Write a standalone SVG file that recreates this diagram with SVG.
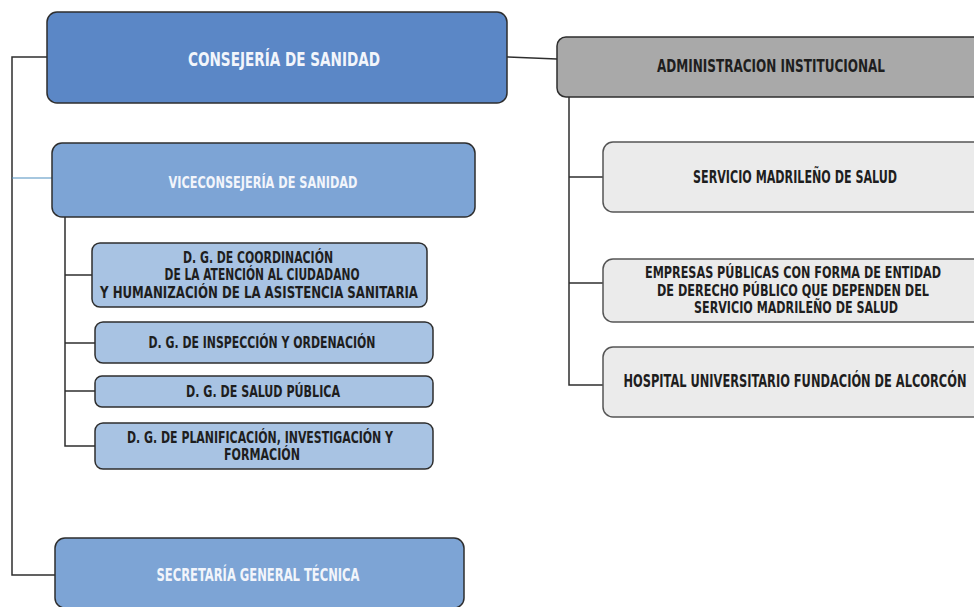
<svg xmlns="http://www.w3.org/2000/svg" width="974" height="607" viewBox="0 0 974 607">
<style>
.t{font-family:"Liberation Sans Narrow","DejaVu Sans Condensed","Liberation Sans",sans-serif;font-weight:bold;text-anchor:middle}
.w{fill:#f2f5fb}
.d{fill:#1e1e1e}
.box{stroke:#2e2e2e;stroke-width:1.5}
.c1{fill:#5b87c6}
.c2{fill:#7da4d5}
.c3{fill:#a8c3e3}
.g1{fill:#a9a9a9}
.g2{fill:#ebebeb;stroke:#555}
.ln{fill:none;stroke:#2e2e2e;stroke-width:1.5}
</style>
<rect width="974" height="607" fill="#ffffff"/>
<g id="connectors">
<polyline class="ln" points="47,57 12,57 12,575 55,575"/>
<line x1="12" y1="178" x2="52" y2="178" stroke="#4f8fc0" stroke-width="1.2"/>
<polyline class="ln" points="65,217 65,446 95,446"/>
<line class="ln" x1="65" y1="275" x2="92" y2="275"/>
<line class="ln" x1="65" y1="343" x2="95" y2="343"/>
<line class="ln" x1="65" y1="391" x2="95" y2="391"/>
<line class="ln" x1="507" y1="57" x2="557" y2="59"/>
<polyline class="ln" points="569,97 569,385 603,385"/>
<line class="ln" x1="569" y1="177" x2="603" y2="177"/>
<line class="ln" x1="569" y1="283" x2="603" y2="283"/>
</g>
<g id="consejeria">
<rect class="box c1" x="47" y="12" width="460" height="91" rx="10"/>
<text class="t w" x="284" y="66" font-size="20" textLength="192" lengthAdjust="spacingAndGlyphs">CONSEJERÍA  DE  SANIDAD</text>
</g>
<g id="viceconsejeria">
<rect class="box c2" x="52" y="143" width="423" height="74" rx="10"/>
<text class="t w" x="263" y="188" font-size="16" textLength="189" lengthAdjust="spacingAndGlyphs">VICECONSEJERÍA  DE  SANIDAD</text>
</g>
<g id="dg-coordinacion">
<rect class="box c3" x="92" y="243" width="335" height="64" rx="8"/>
<text class="t d" x="258" y="263" font-size="15" textLength="150" lengthAdjust="spacingAndGlyphs">D. G. DE COORDINACIÓN</text>
<text class="t d" x="262" y="280" font-size="15" textLength="195" lengthAdjust="spacingAndGlyphs">DE LA ATENCIÓN AL CIUDADANO</text>
<text class="t d" x="259" y="298" font-size="15" textLength="318" lengthAdjust="spacingAndGlyphs">Y HUMANIZACIÓN DE LA ASISTENCIA SANITARIA</text>
</g>
<g id="dg-inspeccion">
<rect class="box c3" x="95" y="322" width="338" height="41" rx="8"/>
<text class="t d" x="262" y="348" font-size="15" textLength="227" lengthAdjust="spacingAndGlyphs">D. G. DE  INSPECCIÓN  Y ORDENACIÓN</text>
</g>
<g id="dg-salud">
<rect class="box c3" x="95" y="376" width="338" height="31" rx="7"/>
<text class="t d" x="263" y="397" font-size="15" textLength="154" lengthAdjust="spacingAndGlyphs">D. G. DE  SALUD PÚBLICA</text>
</g>
<g id="dg-planificacion">
<rect class="box c3" x="95" y="423" width="338" height="46" rx="8"/>
<text class="t d" x="260" y="443" font-size="15" textLength="266" lengthAdjust="spacingAndGlyphs">D. G. DE  PLANIFICACIÓN, INVESTIGACIÓN  Y</text>
<text class="t d" x="262" y="460" font-size="15" textLength="76" lengthAdjust="spacingAndGlyphs">FORMACIÓN</text>
</g>
<g id="secretaria">
<rect class="box c2" x="55" y="538" width="409" height="70" rx="10"/>
<text class="t w" x="258" y="581" font-size="17" textLength="203" lengthAdjust="spacingAndGlyphs">SECRETARÍA  GENERAL  TÉCNICA</text>
</g>
<g id="administracion">
<rect class="box g1" x="557" y="37" width="430" height="60" rx="9"/>
<text class="t d" x="771" y="72" font-size="17" textLength="228" lengthAdjust="spacingAndGlyphs">ADMINISTRACION  INSTITUCIONAL</text>
</g>
<g id="servicio-madrileno">
<rect class="box g2" x="603" y="142" width="385" height="70" rx="10"/>
<text class="t d" x="795" y="183" font-size="17" textLength="204" lengthAdjust="spacingAndGlyphs">SERVICIO MADRILEÑO DE  SALUD</text>
</g>
<g id="empresas-publicas">
<rect class="box g2" x="603" y="259" width="385" height="63" rx="10"/>
<text class="t d" x="793" y="278" font-size="15" textLength="296" lengthAdjust="spacingAndGlyphs">EMPRESAS  PÚBLICAS CON FORMA DE  ENTIDAD</text>
<text class="t d" x="793" y="296" font-size="15" textLength="272" lengthAdjust="spacingAndGlyphs">DE DERECHO  PÚBLICO QUE DEPENDEN  DEL</text>
<text class="t d" x="796" y="313" font-size="15" textLength="204" lengthAdjust="spacingAndGlyphs">SERVICIO MADRILEÑO DE  SALUD</text>
</g>
<g id="hospital-alcorcon">
<rect class="box g2" x="603" y="347" width="385" height="70" rx="10"/>
<text class="t d" x="795" y="387" font-size="17" textLength="343" lengthAdjust="spacingAndGlyphs">HOSPITAL UNIVERSITARIO FUNDACIÓN  DE ALCORCÓN</text>
</g>
</svg>
